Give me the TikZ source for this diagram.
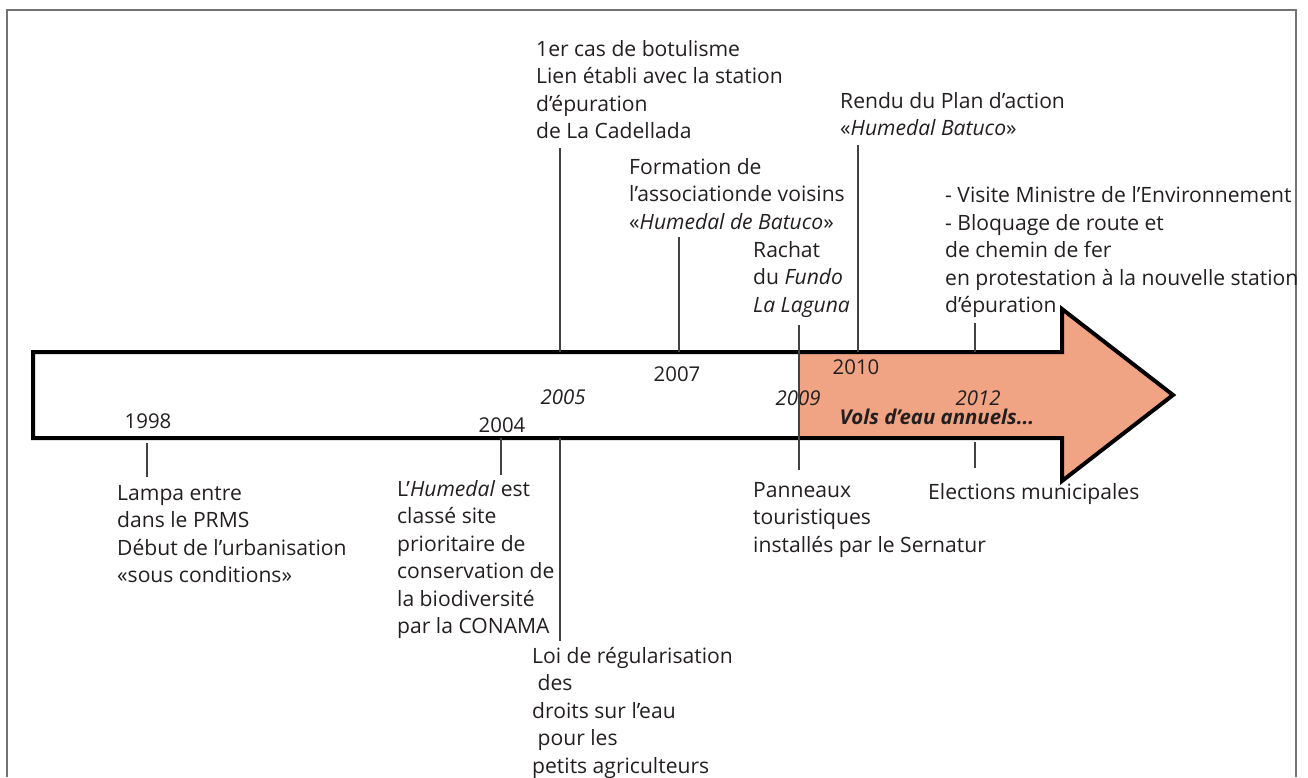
\documentclass[tikz,border=0pt]{standalone}
\usepackage{fontspec}
\setmainfont{Open Sans}
\definecolor{arroworange}{RGB}{240,164,132}
\definecolor{ink}{RGB}{35,31,32}
\begin{document}
\begin{tikzpicture}[x=1pt,y=-1pt,
  txt/.style={anchor=base west, align=left, inner sep=0pt, font=\fontsize{21.1}{27.4}\selectfont, text=ink},
  yr/.style={anchor=base, inner sep=0pt, font=\fontsize{20.4}{24}\selectfont, text=ink},
  tick/.style={line width=1.2pt, draw=ink!85},
  frame/.style={line width=2pt, draw=black!55},
  arrowline/.style={line width=4pt, draw=black, line join=miter, miter limit=10}]
\useasboundingbox (0,0) rectangle (1308,777);
\draw[frame] (7,777) -- (7,10) -- (1296,10) -- (1296,777);
% arrow
\fill[white] (33,352) -- (1062,352) -- (1062,309) -- (1173,395) -- (1062,481) -- (1062,438) -- (33,438) -- cycle;
\fill[arroworange] (799,352) -- (1062,352) -- (1062,309) -- (1173,395) -- (1062,481) -- (1062,438) -- (799,438) -- cycle;
\draw[arrowline] (33,352) -- (1062,352) -- (1062,309) -- (1173,395) -- (1062,481) -- (1062,438) -- (33,438) -- cycle;
% years
\node[yr] (y1998) at (148,428) {1998};
\node[yr] (y2004) at (502,432) {2004};
\node[yr] (y2005) at (563,404) {\itshape 2005};
\node[yr] (y2007) at (677,381) {2007};
\node[yr] (y2009) at (798,405) {\itshape 2009};
\node[yr] (y2010) at (856,374) {2010};
\node[yr] (y2012) at (978,405) {\itshape 2012};
\node[yr] (vols) at (937,424) {\bfseries\itshape Vols d’eau annuels...};
% texts above (anchor = baseline of last line)
\node[txt] (t2005) at (536,138.7) {1er cas de botulisme\\Lien établi avec la station\\d’épuration\\de La Cadellada};
\node[txt] (t2010) at (840,135.9) {Rendu du Plan d’action\\«\textit{Humedal Batuco}»};
\node[txt] (t2007) at (629,229.3) {Formation de\\l’associationde voisins\\«\textit{Humedal de Batuco}»};
\node[txt] (t2012a) at (945,312.5) {- Visite Ministre de l’Environnement\\- Bloquage de route et\\de chemin de fer\\en protestation à la nouvelle station\\d’épuration};
\node[txt] (t2009a) at (753,312.3) {Rachat\\du \textit{Fundo}\\\textit{La Laguna}};
% texts below
\node[txt] (t1998) at (117,582.7) {Lampa entre\\dans le PRMS\\Début de l’urbanisation\\«sous conditions»};
\node[txt] (t2004) at (397,633.5) {L’\textit{Humedal} est\\classé site\\prioritaire de\\conservation de\\la biodiversité\\par la CONAMA};
\node[txt] (t2005b) at (532,773.1) {Loi de régularisation\\\ des\\droits sur l’eau\\\ pour les\\petits agriculteurs};
\node[txt] (t2009b) at (753,552.3) {Panneaux\\touristiques\\installés par le Sernatur};
\node[txt] (t2012b) at (928,499.5) {Elections municipales};
% tick coordinates
\coordinate (c1998a) at (147,443); \coordinate (c1998b) at (147,477);
\coordinate (c2004a) at (501,438); \coordinate (c2004b) at (501,475);
\coordinate (c2005a) at (560,148); \coordinate (c2005b) at (560,352);
\coordinate (c2005c) at (560,438); \coordinate (c2005d) at (560,641);
\coordinate (c2007a) at (679,237); \coordinate (c2007b) at (679,352);
\coordinate (c2009a) at (799,325); \coordinate (c2009b) at (799,470);
\coordinate (c2010a) at (858,145); \coordinate (c2010b) at (858,352);
\coordinate (c2012a) at (975,323); \coordinate (c2012b) at (975,352);
\coordinate (c2012c) at (975,442); \coordinate (c2012d) at (975,468);
\draw[tick] (c1998a) -- (c1998b);
\draw[tick] (c2004a) -- (c2004b);
\draw[tick] (c2005a) -- (c2005b);
\draw[tick] (c2005c) -- (c2005d);
\draw[tick] (c2007a) -- (c2007b);
\draw[tick] (c2009a) -- (c2009b);
\draw[tick] (c2010a) -- (c2010b);
\draw[tick] (c2012a) -- (c2012b);
\draw[tick] (c2012c) -- (c2012d);
\end{tikzpicture}
\end{document}
